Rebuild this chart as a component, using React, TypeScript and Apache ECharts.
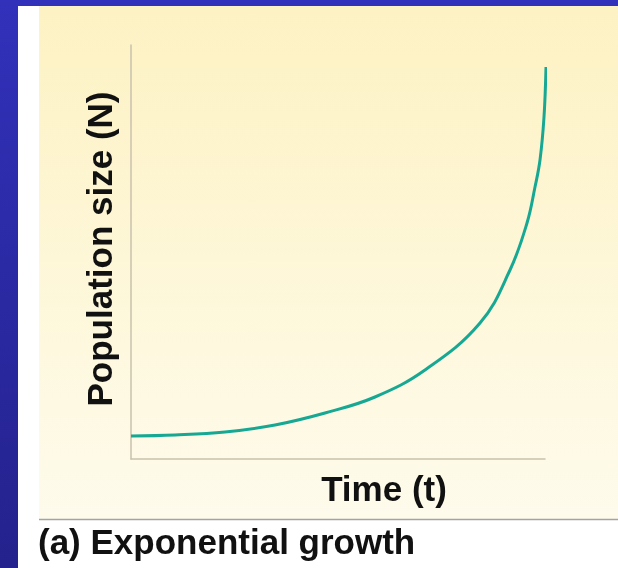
import React, { useEffect, useRef } from "react";
import * as echarts from "echarts";

// Time (t) values (arbitrary units along the axis)
const timeValues = [0, 44, 94, 144, 194, 244, 294, 349, 379, 396, 404, 409, 413, 415];
// Population size (N) values (arbitrary units)
const populationValues = [23, 24, 27, 34, 46, 62, 89, 136, 189, 236, 272, 299, 342, 392];

const xAxisLabel = "Time (t)";
const yAxisLabel = "Population size (N)";
const caption = "(a) Exponential growth";

export default function App() {
  const ref = useRef<HTMLDivElement>(null);
  useEffect(() => {
    if (!ref.current) return;
    document.body.style.margin = "0";
    const chart = echarts.init(ref.current, null, { renderer: "svg" });
    const data = timeValues.map((t, i) => [t, populationValues[i]]);
    const font = "'Liberation Sans', Arial, Helvetica, sans-serif";
    chart.setOption({
      animation: false,
      graphic: [
        {
          type: "rect",
          z: -10,
          silent: true,
          shape: { x: 0, y: 0, width: 618, height: 568 },
          style: {
            fill: new echarts.graphic.LinearGradient(0, 0, 0, 1, [
              { offset: 0, color: "#3131bb" },
              { offset: 1, color: "#24228c" },
            ]),
          },
        },
        {
          type: "rect",
          z: -9,
          silent: true,
          shape: { x: 18, y: 6, width: 600, height: 562 },
          style: { fill: "#ffffff" },
        },
        {
          type: "rect",
          z: -8,
          silent: true,
          shape: { x: 39, y: 6, width: 579, height: 513 },
          style: {
            fill: new echarts.graphic.LinearGradient(0, 0, 0, 1, [
              { offset: 0, color: "#fdf2c3" },
              { offset: 1, color: "#fefbec" },
            ]),
          },
        },
        {
          type: "line",
          z: -7,
          silent: true,
          shape: { x1: 39, y1: 519.5, x2: 618, y2: 519.5 },
          style: { stroke: "#a3a3a3", lineWidth: 1.5 },
        },
        {
          type: "text",
          x: 99,
          y: 249,
          rotation: Math.PI / 2,
          style: {
            text: yAxisLabel,
            font: `bold 35px ${font}`,
            fill: "#111111",
            align: "center",
            verticalAlign: "middle",
          },
        },
        {
          type: "text",
          x: 384,
          y: 488,
          style: {
            text: xAxisLabel,
            font: `bold 35px ${font}`,
            fill: "#111111",
            align: "center",
            verticalAlign: "middle",
          },
        },
        {
          type: "text",
          x: 38,
          y: 541,
          style: {
            text: caption,
            font: `bold 35px ${font}`,
            fill: "#111111",
            align: "left",
            verticalAlign: "middle",
          },
        },
      ],
      grid: { left: 131, right: 73, top: 45, bottom: 109, containLabel: false },
      xAxis: {
        type: "value",
        min: 0,
        max: 414,
        axisLine: { show: true, lineStyle: { color: "#c9c2ad", width: 1.5 } },
        axisTick: { show: false },
        axisLabel: { show: false },
        splitLine: { show: false },
      },
      yAxis: {
        type: "value",
        min: 0,
        max: 414,
        axisLine: { show: true, lineStyle: { color: "#c9c2ad", width: 1.5 } },
        axisTick: { show: false },
        axisLabel: { show: false },
        splitLine: { show: false },
      },
      series: [
        {
          type: "line",
          data,
          smooth: 0.4,
          showSymbol: false,
          clip: false,
          lineStyle: { color: "#16a893", width: 3 },
        },
      ],
    });
    return () => chart.dispose();
  }, []);
  return (
    <div
      ref={ref}
      style={{ position: "fixed", left: 0, top: 0, width: 618, height: 568 }}
    />
  );
}
